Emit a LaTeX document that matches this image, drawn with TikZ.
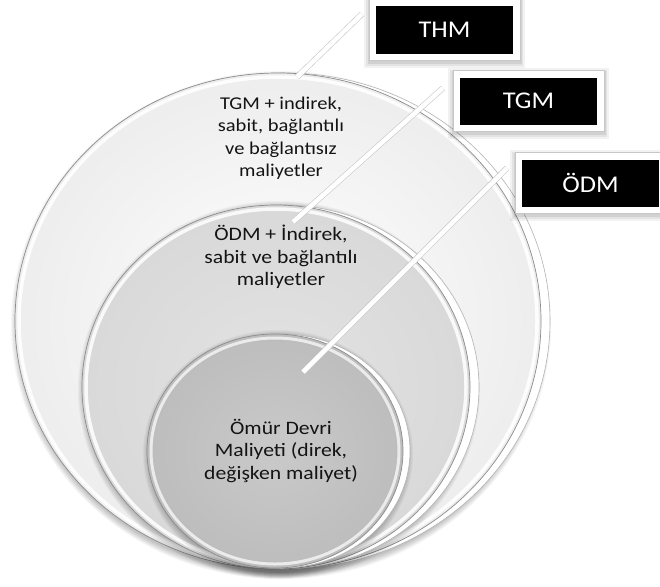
\documentclass[tikz,border=0pt]{standalone}
\usepackage{fontspec}
\setmainfont{Carlito}
\newfontfamily\ringfont[FakeStretch=1.14]{Carlito}
\newfontfamily\tagfont[FakeStretch=1.1]{Carlito}
\usetikzlibrary{shapes.geometric}
\definecolor{rimgray}{HTML}{8C8C8C}
\definecolor{softgray}{HTML}{B4B4B4}
\begin{document}
\begin{tikzpicture}[x=1pt,y=-1pt,
  oval/.style={ellipse, inner sep=0pt, outer sep=0pt},
  rimline/.style={draw=rimgray, line width=0.7pt},
  backring/.style={oval, fill=white, draw=softgray, line width=0.6pt},
  ringtext/.style={align=center, font=\ringfont\fontsize{19}{22.5}\selectfont, text=black!92},
  outertext/.style={ringtext, font=\ringfont\fontsize{18}{22.5}\selectfont},
  tagshadow/.style={preaction={draw=black, draw opacity=#1, transform canvas={yshift=-2.5pt}}},
  tagbox/.style={rectangle, fill=black, draw=white, line width=7pt,
    minimum width=144pt, minimum height=54pt, text=white,
    font=\tagfont\fontsize{24}{28}\selectfont,
    preaction={draw=black, draw opacity=0.05, line width=17pt, transform canvas={yshift=-2.5pt}},
    preaction={draw=black, draw opacity=0.06, line width=13pt, transform canvas={yshift=-2.5pt}},
    preaction={draw=black, draw opacity=0.08, line width=10pt, transform canvas={yshift=-2pt}}},
  tagedge/.style={draw=black!22, line width=0.5pt},
  connector/.style={draw=black!22, line width=0.6pt, double=white, double distance=4.6pt}
]
\useasboundingbox (0,0) rectangle (660,586);
\fill[white] (0,0) rectangle (660,586);

% soft shadow under a stacked ellipse
\newcommand\softshadow[4]{%
  \foreach \g in {0,1,...,6}{%
    \fill[black, opacity=0.035] (#1,#2) ellipse [x radius=#3pt+\g pt, y radius=#4pt+\g pt];}}

% ---- outer ring: THM ----
\softshadow{281}{325}{264}{248}
\node[backring, minimum width=530pt, minimum height=496pt] (thmBack) at (285,321) {};
\node[oval, minimum width=526pt, minimum height=496pt, inner color=white, outer color=black!7, rimline] (thm) at (278,321) {};
\draw[white, line width=3.5pt, opacity=0.9] (278,321) ellipse [x radius=259pt, y radius=244pt];

% ---- middle ring: TGM ----
\softshadow{279}{390}{195}{183}
\node[backring, minimum width=392pt, minimum height=364pt] (tgmBack) at (283,387) {};
\node[oval, minimum width=388pt, minimum height=364pt, inner color=black!11, outer color=black!15, rimline] (tgm) at (276,387) {};
\draw[white, line width=3.5pt, opacity=0.85] (276,387) ellipse [x radius=190pt, y radius=178pt];

% ---- inner ring: ÖDM ----
\softshadow{278}{454}{129}{118}
\node[backring, minimum width=258pt, minimum height=234pt] (odmBack) at (281,451) {};
\node[oval, minimum width=256pt, minimum height=234pt, inner color=black!21, outer color=black!26, rimline] (odm) at (275,451) {};
\draw[white, line width=3pt, opacity=0.7] (275,451) ellipse [x radius=124pt, y radius=113pt];

% ---- ring texts ----
\node[outertext] (thmText) at (281,138) {TGM + indirek,\\sabit, bağlantılı\\ve bağlantısız\\maliyetler};
\node[ringtext] (tgmText) at (281,257) {ÖDM + İndirek,\\sabit ve bağlantılı\\maliyetler};
\node[ringtext] (odmText) at (281,451) {Ömür Devri\\Maliyeti (direk,\\değişken maliyet)};

% ---- connector end points ----
\coordinate (thmFoot) at (297,77);
\coordinate (thmHead) at (362,14);
\coordinate (tgmFoot) at (293,222);
\coordinate (tgmHead) at (443,88);
\coordinate (odmFoot) at (303,372);
\coordinate (odmHead) at (507,168);

\draw[connector] (thmFoot) -- (thmHead);
\draw[connector] (tgmFoot) -- (tgmHead);
\draw[connector] (odmFoot) -- (odmHead);

% ---- label boxes ----
\node[tagbox] (thmTag) at (444.5,30) {THM};
\draw[tagedge] (thmTag.north west) rectangle (thmTag.south east);
\node[tagbox] (tgmTag) at (528.5,101) {TGM};
\draw[tagedge] (tgmTag.north west) rectangle (tgmTag.south east);
\node[tagbox] (odmTag) at (590.5,183) {ÖDM};
\draw[tagedge] (odmTag.north west) rectangle (odmTag.south east);
\end{tikzpicture}
\end{document}
